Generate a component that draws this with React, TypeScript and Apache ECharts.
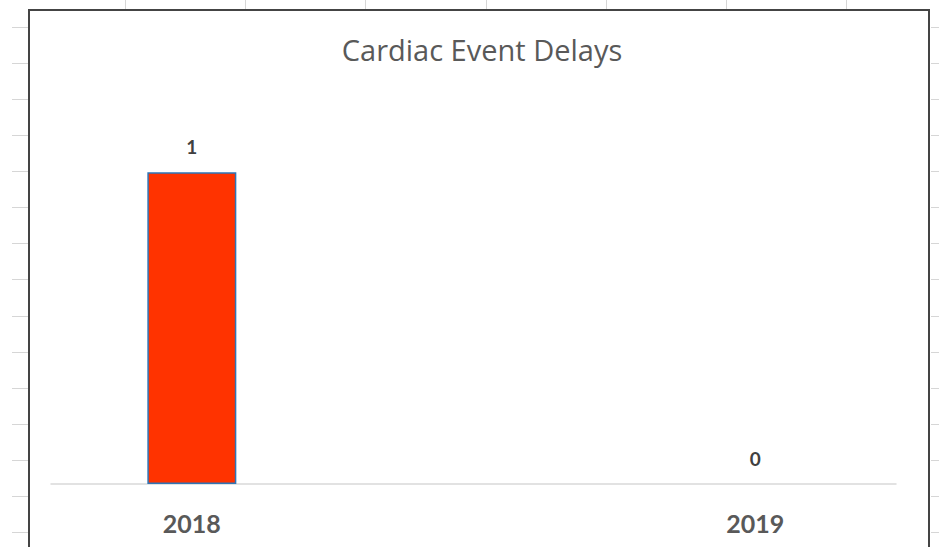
import React, { useEffect, useRef } from "react";
import * as echarts from "echarts";

const categories: string[] = ["2018", "", "2019"];
const values: (number | null)[] = [1, null, 0];
const chartTitle = "Cardiac Event Delays";

const FONT = "Lato, 'Noto Sans', sans-serif";
const TITLE_FONT = "'Open Sans', 'Noto Sans', sans-serif";

function buildGraphic() {
  const els: any[] = [];
  const gridColor = "#d6d6d6";
  // spreadsheet gridlines outside the chart frame
  for (let y = 27; y < 547; y += 36.07) {
    els.push({ type: "line", silent: true, shape: { x1: 12, y1: Math.round(y) + 0.5, x2: 28, y2: Math.round(y) + 0.5 }, style: { stroke: gridColor, lineWidth: 1 } });
    els.push({ type: "line", silent: true, shape: { x1: 931, y1: Math.round(y) + 0.5, x2: 939, y2: Math.round(y) + 0.5 }, style: { stroke: gridColor, lineWidth: 1 } });
  }
  for (let x = 125; x < 939; x += 120.2) {
    els.push({ type: "line", silent: true, shape: { x1: Math.round(x) + 0.5, y1: 0, x2: Math.round(x) + 0.5, y2: 9 }, style: { stroke: gridColor, lineWidth: 1 } });
  }
  // chart frame
  els.push({ type: "rect", silent: true, shape: { x: 29, y: 10, width: 900, height: 560 }, style: { fill: "none", stroke: "#444444", lineWidth: 2 } });
  return els;
}

export default function App() {
  const ref = useRef<HTMLDivElement>(null);
  useEffect(() => {
    if (!ref.current) return;
    const chart = echarts.init(ref.current, null, { renderer: "svg" });
    const seriesData = values.map((v) =>
      v === 0 ? { value: v, itemStyle: { borderWidth: 0 } } : v
    );
    chart.setOption({
      animation: false,
      backgroundColor: "#ffffff",
      title: {
        text: chartTitle,
        left: 477,
        textAlign: "center",
        top: 30,
        textStyle: { fontFamily: TITLE_FONT, fontSize: 29, fontWeight: "normal", color: "#595959" },
      },
      grid: { left: 51, right: 43, top: 110, bottom: 63, containLabel: false },
      xAxis: {
        type: "category",
        data: categories,
        axisLine: { show: true, lineStyle: { color: "#d9d9d9", width: 1.5 } },
        axisTick: { show: false },
        axisLabel: { fontFamily: FONT, fontSize: 25, fontWeight: "bold", color: "#595959", margin: 26 },
        splitLine: { show: false },
      },
      yAxis: {
        type: "value",
        min: 0,
        max: 1.2,
        show: false,
        splitLine: { show: false },
      },
      graphic: buildGraphic(),
      series: [
        {
          type: "bar",
          data: seriesData,
          barWidth: 89,
          itemStyle: { color: "#FF3300", borderColor: "#2E75B6", borderWidth: 1.5 },
          label: {
            show: true,
            position: "top",
            distance: 16,
            fontFamily: FONT,
            fontSize: 19,
            fontWeight: "bold",
            color: "#404040",
          },
        },
      ],
    });
    return () => chart.dispose();
  }, []);
  return <div ref={ref} style={{ position: "absolute", left: 0, top: 0, width: 939, height: 547 }} />;
}
